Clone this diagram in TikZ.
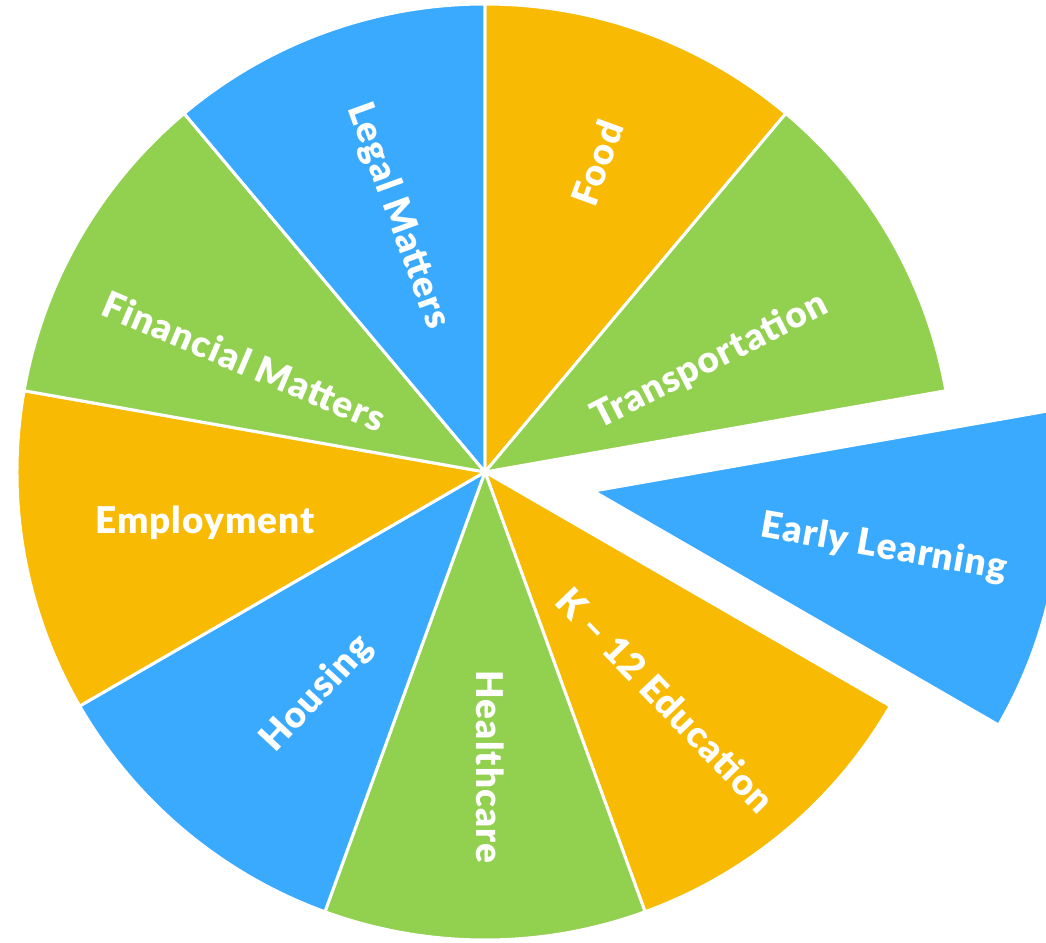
\documentclass[tikz,border=0pt]{standalone}
\usepackage{fontspec}
\setmainfont{Lato}
\newfontfamily\piefont{Lato Black}[LetterSpace=3]
\usetikzlibrary{positioning}
\definecolor{pieorange}{HTML}{F9BA04}
\definecolor{piegreen}{HTML}{92D050}
\definecolor{pieblue}{HTML}{3AAAFF}

\begin{document}
\begin{tikzpicture}[x=0.02cm,y=0.02cm,
    slice/.style={draw=white,line width=0.06cm,line join=round},
    lbl/.style={text=white,inner sep=0pt,
                font=\piefont\fontsize{21}{24}\selectfont}]
  \clip (-485,-471) rectangle (561,472);
  \foreach \s/\col in {50/pieorange,10/piegreen,-70/pieorange,-110/piegreen,
                       -150/pieblue,170/pieorange,130/piegreen,90/pieblue}
    \filldraw[slice,fill=\col] (0,0) -- (\s:468)
      arc[start angle=\s,delta angle=40,radius=468] -- cycle;
  \filldraw[slice,fill=pieblue,shift={(-10:110)}] (0,0) -- (-30:468)
    arc[start angle=-30,delta angle=40,radius=468] -- cycle;
  \node[lbl,rotate=70]  (food)  at (112,309)   {Food};
  \node[lbl,rotate=27]  (trans) at (225,111)   {Transportation};
  \node[lbl,rotate=-10] (early) at (399,-76)   {Early Learning};
  \node[lbl,rotate=-46] (kedu)  at (181,-228)  {K – 12 Education};
  \node[lbl,rotate=-90] (health) at (5,-295)   {Healthcare};
  \node[lbl,rotate=47]  (house) at (-168,-222) {Housing};
  \node[lbl]            (employ) at (-280,-51) {Employment};
  \node[lbl,rotate=-23] (fin)   at (-241,111)  {Financial Matters};
  \node[lbl,rotate=-70] (legal) at (-87,256)   {Legal Matters};
\end{tikzpicture}
\end{document}
